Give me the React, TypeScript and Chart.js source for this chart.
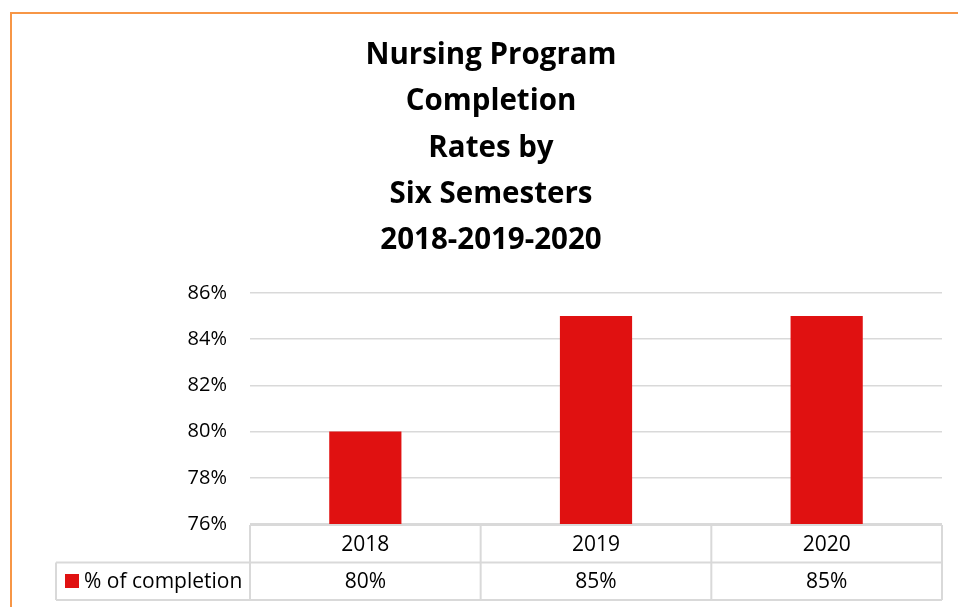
import { useEffect, useRef } from "react";
import { Chart, registerables } from "chart.js";

Chart.register(...registerables);

const titleLines = ["Nursing Program", "Completion", "Rates by", "Six Semesters", "2018-2019-2020"];
const categories = ["2018", "2019", "2020"];
const seriesName = "% of completion";
const values = [80, 85, 85];
const yMin = 76;
const yMax = 86;
const yStep = 2;

const FONT = "'Open Sans', sans-serif";
const BAR_COLOR = "#E01111";
const GRID_COLOR = "#D9D9D9";
const TEXT_COLOR = "#000000";

const framePlugin = {
  id: "frame",
  beforeDraw(chart: any) {
    const ctx = chart.ctx;
    ctx.save();
    ctx.fillStyle = "#ffffff";
    ctx.fillRect(0, 0, chart.width, chart.height);
    ctx.strokeStyle = "#F79646";
    ctx.lineWidth = 2;
    ctx.beginPath();
    ctx.moveTo(11, chart.height + 5);
    ctx.lineTo(11, 13);
    ctx.lineTo(chart.width + 5, 13);
    ctx.stroke();
    ctx.restore();
  },
};

const titlePlugin = {
  id: "customTitle",
  afterDraw(chart: any) {
    const ctx = chart.ctx;
    ctx.save();
    ctx.fillStyle = TEXT_COLOR;
    ctx.font = `bold 29.5px ${FONT}`;
    ctx.textAlign = "center";
    ctx.textBaseline = "alphabetic";
    titleLines.forEach((t, i) => {
      ctx.fillText(t, 491, 64 + i * 46.25);
    });
    ctx.restore();
  },
};

const tablePlugin = {
  id: "dataTable",
  afterDraw(chart: any) {
    const { ctx, chartArea } = chart;
    const xs = chart.scales.x;
    const left = chartArea.left;
    const right = chartArea.right;
    const top = chartArea.bottom + 1;
    const rowH = 37.5;
    const legendLeft = 56;
    const n = categories.length;
    const centers = categories.map((_, i) => xs.getPixelForValue(i));
    const bounds: number[] = [left];
    for (let i = 0; i < n - 1; i++) bounds.push((centers[i] + centers[i + 1]) / 2);
    bounds.push(right);

    ctx.save();
    ctx.strokeStyle = GRID_COLOR;
    ctx.lineWidth = 2;
    const line = (x1: number, y1: number, x2: number, y2: number) => {
      ctx.beginPath();
      ctx.moveTo(x1, y1);
      ctx.lineTo(x2, y2);
      ctx.stroke();
    };
    line(left, top, right, top);
    line(legendLeft, top + rowH, right, top + rowH);
    line(legendLeft, top + 2 * rowH, right, top + 2 * rowH);
    bounds.forEach((b) => line(b, top, b, top + 2 * rowH));
    line(legendLeft, top + rowH, legendLeft, top + 2 * rowH);

    ctx.fillStyle = TEXT_COLOR;
    ctx.font = `21px ${FONT}`;
    ctx.textBaseline = "middle";
    ctx.textAlign = "center";
    categories.forEach((c, i) => {
      ctx.fillText(c, centers[i], top + rowH / 2 + 1);
      ctx.fillText(values[i] + "%", centers[i], top + rowH * 1.5 + 1);
    });
    // legend
    ctx.fillStyle = BAR_COLOR;
    ctx.fillRect(65, top + rowH + 11.5, 14, 14);
    ctx.fillStyle = TEXT_COLOR;
    ctx.textAlign = "left";
    ctx.fillText(seriesName, 84, top + rowH * 1.5 + 1);
    ctx.restore();
  },
};

export default function App() {
  const ref = useRef<HTMLCanvasElement>(null);
  useEffect(() => {
    if (!ref.current) return;
    const chart = new Chart(ref.current, {
      type: "bar",
      data: {
        labels: categories,
        datasets: [
          {
            label: seriesName,
            data: values,
            backgroundColor: BAR_COLOR,
            barPercentage: 0.313,
            categoryPercentage: 1,
          },
        ],
      },
      options: {
        responsive: false,
        animation: false,
        layout: { padding: { top: 293, left: 0, right: 16, bottom: 83 } },
        plugins: {
          legend: { display: false },
          title: { display: false },
          tooltip: { enabled: false },
        },
        scales: {
          x: { display: false },
          y: {
            min: yMin,
            max: yMax,
            ticks: {
              stepSize: yStep,
              padding: 23,
              color: TEXT_COLOR,
              font: { family: FONT, size: 20 },
              callback: (v: any) => v + "%",
            },
            grid: { color: GRID_COLOR, lineWidth: 1.5, drawTicks: false },
            border: { display: false },
            afterFit: (scale: any) => {
              scale.width = 250;
            },
          },
        },
      },
      plugins: [framePlugin, titlePlugin, tablePlugin],
    });
    return () => chart.destroy();
  }, []);
  return (
    <div style={{ position: "fixed", left: 0, top: 0, width: 958, height: 607 }}>
      <canvas ref={ref} width={958} height={607} style={{ display: "block" }} />
    </div>
  );
}
